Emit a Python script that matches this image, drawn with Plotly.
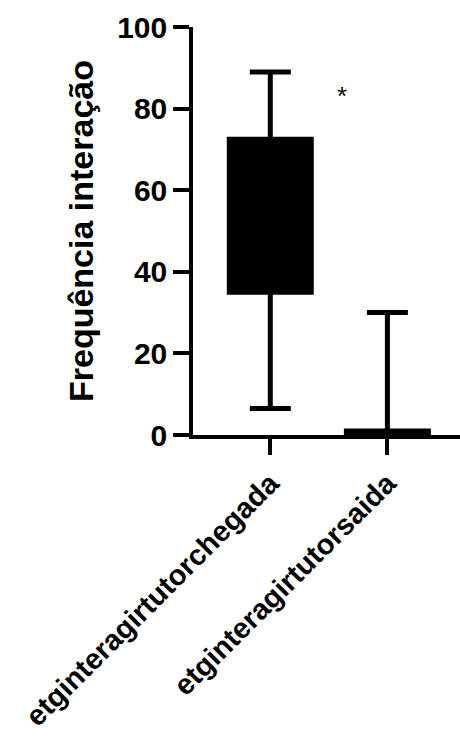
import plotly.graph_objects as go

categories = ["etginteragirtutorchegada", "etginteragirtutorsaida"]
q1 = [35, 0]
median = [52, 0]
q3 = [72.5, 1]
lowerfence = [6.5, 0]
upperfence = [89, 30]
y_ticks = [0, 20, 40, 60, 80, 100]
star_pos = (0.61, 83)

FONT = "Liberation Sans, Arial, sans-serif"

fig = go.Figure()
fig.add_trace(go.Box(
    x=categories, q1=q1, median=median, q3=q3,
    lowerfence=lowerfence, upperfence=upperfence,
    fillcolor="black", line=dict(color="black", width=5),
    whiskerwidth=0.5, width=0.7, boxpoints=False, showlegend=False,
))
fig.add_annotation(x=star_pos[0], y=star_pos[1], text="*", showarrow=False,
                   font=dict(family=FONT, size=26, color="black"))

fig.update_layout(
    width=460, height=739,
    margin=dict(l=193, r=0, t=27, b=304),
    paper_bgcolor="white", plot_bgcolor="white",
    xaxis=dict(
        type="category", range=[-0.66, 1.62], automargin=False,
        showline=True, linecolor="black", linewidth=3.5,
        ticks="outside", ticklen=16, tickwidth=3.5, tickcolor="black",
        tickangle=-45, showgrid=False, zeroline=False,
        tickfont=dict(family=FONT, size=29, color="black", weight="bold"),
    ),
    yaxis=dict(
        range=[0, 100], tickvals=y_ticks, automargin=False,
        showline=True, linecolor="black", linewidth=3.5,
        ticks="outside", ticklen=16, tickwidth=3.5, tickcolor="black",
        showgrid=False, zeroline=False,
        tickfont=dict(family=FONT, size=30, color="black", weight="bold"),
        title=dict(text="Frequência interação", standoff=14,
                   font=dict(family=FONT, size=34, color="black", weight="bold")),
    ),
)

fig.write_html("out.html")
